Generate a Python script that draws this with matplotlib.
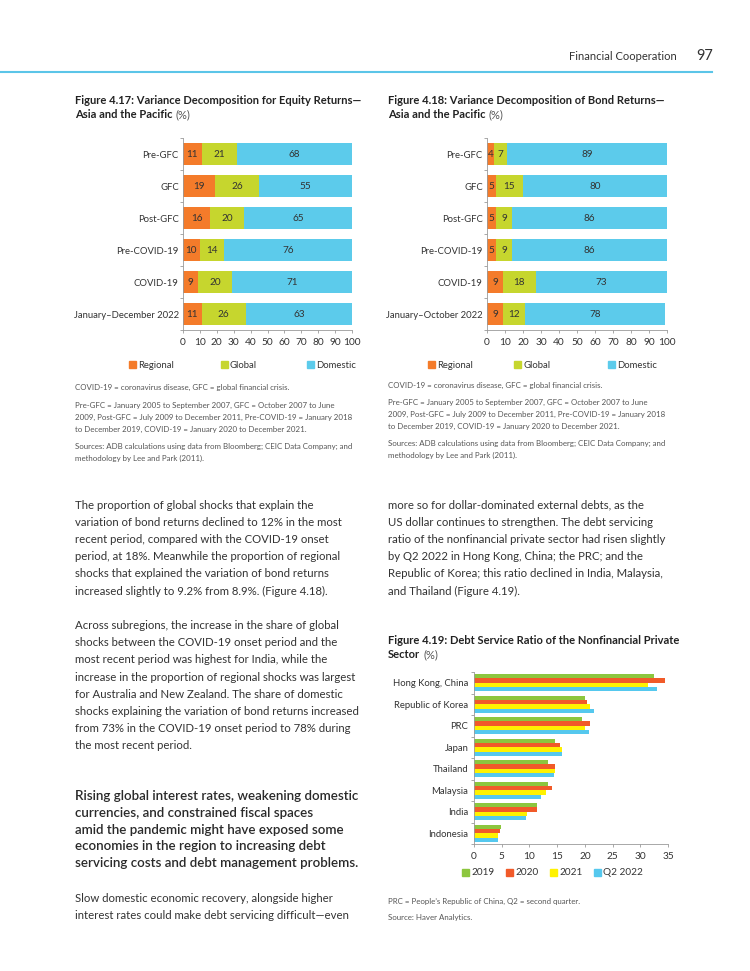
import matplotlib
matplotlib.use("Agg")
import matplotlib.pyplot as plt
from matplotlib.patches import Rectangle
from matplotlib.lines import Line2D
import numpy as np

plt.rcParams['font.family'] = ['Lato', 'DejaVu Sans']

# data: figure 4.17 (equity returns)
periods_equity = ["Pre-GFC", "GFC", "Post-GFC", "Pre-COVID-19", "COVID-19", "January–December 2022"]
equity_regional = [11, 19, 16, 10, 9, 11]
equity_global = [21, 26, 20, 14, 20, 26]
equity_domestic = [68, 55, 65, 76, 71, 63]

# data: figure 4.18 (bond returns)
periods_bond = ["Pre-GFC", "GFC", "Post-GFC", "Pre-COVID-19", "COVID-19", "January–October 2022"]
bond_regional = [4, 5, 5, 5, 9, 9]
bond_global = [7, 15, 9, 9, 18, 12]
bond_domestic = [89, 80, 86, 86, 73, 78]

# data: figure 4.19 (debt service ratio)
economies = ["Hong Kong, China", "Republic of Korea", "PRC", "Japan",
             "Thailand", "Malaysia", "India", "Indonesia"]
dsr_2019 = [32.5, 20.0, 19.4, 14.7, 13.3, 13.4, 11.3, 4.9]
dsr_2020 = [34.4, 20.3, 20.9, 15.6, 14.6, 14.0, 11.3, 4.7]
dsr_2021 = [31.4, 20.9, 20.0, 15.8, 14.6, 12.9, 9.5, 4.3]
dsr_q2_2022 = [33.0, 21.6, 20.7, 15.8, 14.4, 12.1, 9.4, 4.3]
dsr_years = ["2019", "2020", "2021", "Q2 2022"]

REG, GLOB, DOM = "#f47b2a", "#c6d62e", "#5ccbeb"
YEAR_COLS = ["#8cc63e", "#f15a29", "#fff200", "#55c8ee"]
TXT = "#333333"
NOTE = "#555555"
AXC = "#9a9a9a"

W, H = 750, 971
fig = plt.figure(figsize=(7.5, 9.71), dpi=100)
renderer = fig.canvas.get_renderer()

LX = 75    # left column x
RX = 388   # right column x


def fx(x):
    return x / W


def fy(y):
    return 1 - y / H


def add_ax(left, top, right, bottom):
    return fig.add_axes([fx(left), fy(bottom), (right - left) / W, (bottom - top) / H])


def text_lines(x, y0, step, lines, **kw):
    for i, line in enumerate(lines):
        fig.text(fx(x), fy(y0 + i * step), line, va='center', **kw)


def legend_row(items, y, size=6.8):
    for x, lab, col in items:
        fig.patches.append(Rectangle((fx(x), fy(y + 3.5)), 7 / W, 7 / H,
                                     transform=fig.transFigure, color=col))
        fig.text(fx(x + 9), fy(y), lab, va='center', fontsize=size, color=TXT)


def fig_title(x, y, line1, line2, tail="(%)"):
    kw = dict(va='center', fontsize=8, fontweight='bold', color="#222222")
    fig.text(fx(x), fy(y), line1, **kw)
    t = fig.text(fx(x), fy(y + 15), line2, **kw)
    bb = t.get_window_extent(renderer=renderer)
    fig.text(fx(bb.x1 + 3), fy(y + 15), tail, va='center', fontsize=8, color=NOTE)


def style_axes(ax):
    ax.tick_params(axis='x', labelsize=7.3, colors=AXC, labelcolor=TXT, length=2.5, width=0.6, pad=3)
    ax.tick_params(axis='y', which='major', length=0, pad=3)
    ax.tick_params(axis='y', which='minor', length=2, color=AXC, width=0.6)
    for s in ['top', 'right']:
        ax.spines[s].set_visible(False)
    for s in ['left', 'bottom']:
        ax.spines[s].set_color(AXC)
        ax.spines[s].set_linewidth(0.6)


def stacked(ax, labels, reg, glob, dom):
    y = np.arange(len(labels))
    left = np.zeros(len(labels))
    for vals, col in [(reg, REG), (glob, GLOB), (dom, DOM)]:
        vals = np.array(vals, dtype=float)
        ax.barh(y, vals, left=left, height=0.66, color=col)
        for yi, l, v in zip(y, left, vals):
            ax.text(min(l + v / 2, (l + 100) / 2), yi, f"{v:.0f}", ha='center', va='center',
                    fontsize=7.2, color=TXT)
        left += vals
    ax.set_xlim(0, 100)
    ax.set_ylim(len(labels) - 0.5, -0.5)
    ax.set_yticks(y)
    ax.set_yticklabels(labels, fontsize=6.8, color=TXT)
    ax.set_yticks(np.arange(-0.5, len(labels)), minor=True)
    ax.set_xticks(range(0, 101, 10))
    style_axes(ax)


notes_a = ["COVID-19 = coronavirus disease, GFC = global financial crisis."]
notes_b = ["Pre-GFC = January 2005 to September 2007, GFC = October 2007 to June",
           "2009, Post-GFC = July 2009 to December 2011, Pre-COVID-19 = January 2018",
           "to December 2019, COVID-19 = January 2020 to December 2021."]
notes_c = ["Sources: ADB calculations using data from Bloomberg; CEIC Data Company; and",
           "methodology by Lee and Park (2011)."]
note_kw = dict(fontsize=5.7, color=NOTE)

# header
fig.lines.append(Line2D([0, fx(712)], [fy(72), fy(72)], transform=fig.transFigure,
                        color="#5bc5e8", lw=1.5))
fig.text(fx(677), fy(57), "Financial Cooperation", ha='right', va='center', fontsize=8, color=TXT)
fig.text(fx(696), fy(56), "97", ha='left', va='center', fontsize=10.5, color=TXT)

# figure 4.17
fig_title(LX, 100, "Figure 4.17: Variance Decomposition for Equity Returns—", "Asia and the Pacific")
ax1 = add_ax(183, 138, 352, 330)
stacked(ax1, periods_equity, equity_regional, equity_global, equity_domestic)
legend_row([(129, "Regional", REG), (221, "Global", GLOB), (307, "Domestic", DOM)], 365)
text_lines(LX, 387, 12, notes_a, **note_kw)
text_lines(LX, 405, 12, notes_b, **note_kw)
text_lines(LX, 446, 12, notes_c, **note_kw)

# figure 4.18
fig_title(RX, 100, "Figure 4.18: Variance Decomposition of Bond Returns—", "Asia and the Pacific")
ax2 = add_ax(487, 138, 667, 330)
stacked(ax2, periods_bond, bond_regional, bond_global, bond_domestic)
legend_row([(428, "Regional", REG), (514, "Global", GLOB), (608, "Domestic", DOM)], 365)
text_lines(RX, 385, 12, notes_a, **note_kw)
text_lines(RX, 402, 12, notes_b, **note_kw)
text_lines(RX, 443, 12, notes_c, **note_kw)

# body text, left column
body = dict(fontsize=8.2, color=TXT)
LS = 17.2
text_lines(LX, 505, LS, ["The proportion of global shocks that explain the",
                         "variation of bond returns declined to 12% in the most",
                         "recent period, compared with the COVID-19 onset",
                         "period, at 18%. Meanwhile the proportion of regional",
                         "shocks that explained the variation of bond returns",
                         "increased slightly to 9.2% from 8.9%. (Figure 4.18)."], **body)
text_lines(LX, 505 + 7 * LS, LS, ["Across subregions, the increase in the share of global",
                                  "shocks between the COVID-19 onset period and the",
                                  "most recent period was highest for India, while the",
                                  "increase in the proportion of regional shocks was largest",
                                  "for Australia and New Zealand. The share of domestic",
                                  "shocks explaining the variation of bond returns increased",
                                  "from 73% in the COVID-19 onset period to 78% during",
                                  "the most recent period."], **body)
text_lines(LX, 796, 16.8, ["Rising global interest rates, weakening domestic",
                           "currencies, and constrained fiscal spaces",
                           "amid the pandemic might have exposed some",
                           "economies in the region to increasing debt",
                           "servicing costs and debt management problems."],
           fontsize=9.6, fontweight='semibold', color="#2a2a2a")
text_lines(LX, 898, LS, ["Slow domestic economic recovery, alongside higher",
                         "interest rates could make debt servicing difficult—even"], **body)

# body text, right column
text_lines(RX, 505, LS, ["more so for dollar-dominated external debts, as the",
                         "US dollar continues to strengthen. The debt servicing",
                         "ratio of the nonfinancial private sector had risen slightly",
                         "by Q2 2022 in Hong Kong, China; the PRC; and the",
                         "Republic of Korea; this ratio declined in India, Malaysia,",
                         "and Thailand (Figure 4.19)."], **body)

# figure 4.19
fig_title(RX, 640, "Figure 4.19: Debt Service Ratio of the Nonfinancial Private", "Sector")

ax3 = add_ax(474, 672, 668, 844)
n = len(economies)
yb = np.arange(n)
bh = 0.2
for k, (vals, col) in enumerate(zip([dsr_2019, dsr_2020, dsr_2021, dsr_q2_2022], YEAR_COLS)):
    ax3.barh(yb - 0.3 + k * bh, vals, height=bh, color=col)
ax3.set_xlim(0, 35)
ax3.set_ylim(n - 0.5, -0.5)
ax3.set_yticks(yb)
ax3.set_yticklabels(economies, fontsize=6.8, color=TXT)
ax3.set_yticks(np.arange(-0.5, n), minor=True)
ax3.set_xticks(range(0, 36, 5))
style_axes(ax3)
ax3.tick_params(axis='y', which='major', pad=4)
legend_row([(462, dsr_years[0], YEAR_COLS[0]), (506, dsr_years[1], YEAR_COLS[1]),
            (550, dsr_years[2], YEAR_COLS[2]), (594, dsr_years[3], YEAR_COLS[3])], 872, size=7.2)
text_lines(RX, 901, 16, ["PRC = People’s Republic of China, Q2 = second quarter.",
                         "Source: Haver Analytics."], **note_kw)

fig.savefig("out.png", dpi=100)
